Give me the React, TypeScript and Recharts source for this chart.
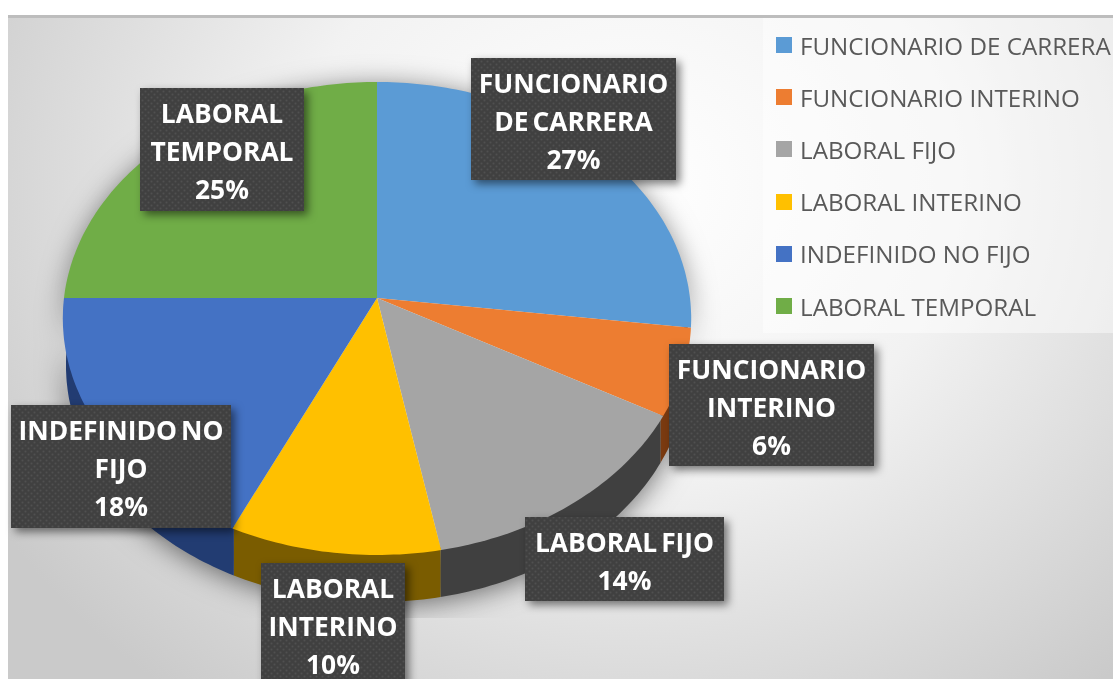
import React from 'react';
import { PieChart, Pie, Legend } from 'recharts';

const categories = ['FUNCIONARIO DE CARRERA', 'FUNCIONARIO INTERINO', 'LABORAL FIJO', 'LABORAL INTERINO', 'INDEFINIDO NO FIJO', 'LABORAL TEMPORAL'];
const shares = [27, 6, 14, 10, 18, 25];
const topColors = ['#5b9bd5', '#ed7d31', '#a5a5a5', '#ffc000', '#4472c4', '#70ad47'];
const sideColors = ['#2e5f8f', '#7a3a10', '#404040', '#7a5c00', '#223c72', '#3d6b26'];
const labelLines = [['FUNCIONARIO', 'DE CARRERA'], ['FUNCIONARIO', 'INTERINO'], ['LABORAL FIJO'], ['LABORAL', 'INTERINO'], ['INDEFINIDO NO', 'FIJO'], ['LABORAL', 'TEMPORAL']];
// label box: left, top, right, bottom
const labelBoxes = [
  [471, 58, 676, 180],
  [669, 344, 874, 466],
  [525, 517, 724, 601],
  [261, 563, 405, 690],
  [11, 405, 231, 528],
  [140, 88, 304, 211],
];

const data = categories.map((name, i) => ({ name, value: shares[i], fill: topColors[i], side: sideColors[i] }));

const CX = 377;
const CY = 298;
const RADIUS = 313;
const DEPTH = 47;
const TILT_Y = 234.7;
const PERSPECTIVE = -0.0867;

// recharts polar angle -> point on the tilted pie rim
const rimPoint = (angle: number) => {
  const rad = (angle * Math.PI) / 180;
  const u = Math.cos(rad);
  const v = -Math.sin(rad);
  const d = 1 + PERSPECTIVE * v;
  return [CX + (RADIUS * u) / d, CY + (TILT_Y * v) / d];
};

const rimPoints = (start: number, end: number) => {
  const steps = Math.max(2, Math.ceil(Math.abs(end - start)));
  const pts: number[][] = [];
  for (let i = 0; i <= steps; i++) pts.push(rimPoint(start + ((end - start) * i) / steps));
  return pts;
};

const toPath = (pts: number[][]) => 'M' + pts.map((p) => `${p[0].toFixed(1)},${p[1].toFixed(1)}`).join('L') + 'Z';

const TopSlice = (props: any) => {
  const pts = [[CX, CY], ...rimPoints(props.startAngle, props.endAngle)];
  return <path d={toPath(pts)} fill={props.fill} />;
};

const SideSlice = (props: any) => {
  const rim = rimPoints(props.startAngle, props.endAngle);
  const upper = rim.map((p) => [CX + (p[0] - CX) * 0.99, CY + (p[1] - CY) * 0.99]);
  const lower = rim.map((p) => [CX + (p[0] - CX) * 0.99, p[1] + DEPTH]).reverse();
  return <path d={toPath([...upper, ...lower])} fill={props.side} />;
};

const SliceLabel = (props: any) => {
  const { index, percent } = props;
  const [l, t, r, b] = labelBoxes[index];
  const mid = (l + r) / 2;
  const rows = [...labelLines[index], `${Math.round(percent * 100)}%`];
  return (
    <g>
      <rect x={l} y={t} width={r - l} height={b - t} fill="#404040" style={{ filter: 'drop-shadow(4px 4px 4px rgba(0,0,0,0.5))' }} />
      <rect x={l} y={t} width={r - l} height={b - t} fill="url(#boxDots)" />
      {rows.map((row, i) => (
        <text
          key={i}
          x={mid}
          y={t + 35 + i * 38}
          textAnchor="middle"
          fill="#ffffff"
          fontFamily="'Open Sans', sans-serif"
          fontWeight={700}
          fontSize={26.4}
          wordSpacing={-3}
        >
          {row}
        </text>
      ))}
    </g>
  );
};

const LegendRows = ({ payload }: any) => {
  // both pies report entries, keep one per category in data order
  const rows = categories.map((name) => (payload || []).find((entry: any) => entry.value === name)).filter(Boolean);
  return (
    <div style={{ position: 'relative', width: 350, height: 315, background: 'rgba(255,255,255,0.45)' }}>
      {rows.map((entry: any, i: number) => (
        <div
          key={entry.value}
          style={{ position: 'absolute', left: 13, top: 13 + i * 52.2, height: 28, display: 'flex', alignItems: 'center', whiteSpace: 'nowrap' }}
        >
          <span style={{ width: 16, height: 16, background: entry.color, marginRight: 8 }} />
          <span style={{ fontFamily: "'Open Sans', sans-serif", fontSize: 24.2, color: '#595959' }}>{entry.value}</span>
        </div>
      ))}
    </div>
  );
};

export default function App() {
  return (
    <div style={{ position: 'absolute', left: 0, top: 0, width: 1113, height: 679, overflow: 'hidden', background: '#fff', filter: 'blur(0.5px)' }}>
      <style>{'.pie-sides{filter:drop-shadow(0px 3px 14px rgba(0,0,0,0.55));clip-path:url(#plotClip);}'}</style>
      <div
        style={{
          position: 'absolute',
          left: 8,
          top: 15,
          right: 0,
          bottom: 0,
          borderTop: '3px solid #bdbdbd',
          background: 'radial-gradient(ellipse 740px 640px at 620px 170px, #ffffff 0%, #f2f2f2 45%, #cacaca 100%)',
        }}
      />
      <PieChart width={1113} height={679} style={{ position: 'absolute', left: 0, top: 0 }} margin={{ top: 0, right: 0, bottom: 0, left: 0 }}>
        <defs>
          <pattern id="boxDots" width="6" height="6" patternUnits="userSpaceOnUse">
            <circle cx="1.5" cy="1.5" r="1" fill="#505050" />
            <circle cx="4.5" cy="4.5" r="1" fill="#505050" />
          </pattern>
          <clipPath id="plotClip">
            <rect x="8" y="18" width="1105" height="600" />
          </clipPath>
        </defs>
        <Pie
          className="pie-sides"
          data={data}
          dataKey="value"
          nameKey="name"
          cx={CX}
          cy={CY}
          outerRadius={RADIUS}
          startAngle={90}
          endAngle={-270}
          stroke="none"
          legendType="none"
          shape={SideSlice}
          isAnimationActive={false}
        />
        <Pie
          data={data}
          dataKey="value"
          nameKey="name"
          cx={CX}
          cy={CY}
          outerRadius={RADIUS}
          startAngle={90}
          endAngle={-270}
          stroke="none"
          shape={TopSlice}
          label={SliceLabel}
          labelLine={false}
          isAnimationActive={false}
        />
        <Legend content={LegendRows} itemSorter={null} wrapperStyle={{ left: 763, top: 18, width: 350, bottom: 'auto' }} />
      </PieChart>
    </div>
  );
}
